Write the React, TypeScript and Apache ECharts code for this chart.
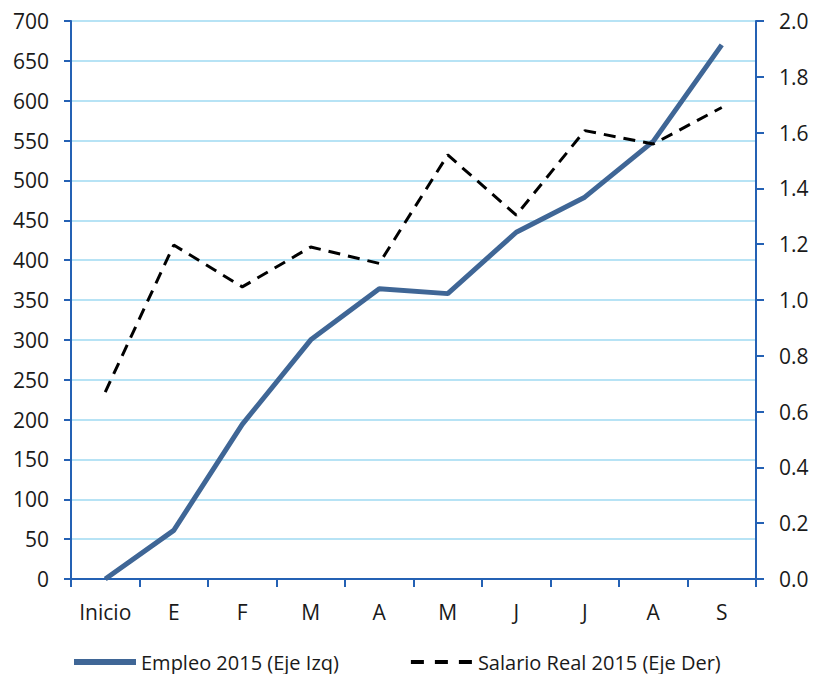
import React, { useEffect, useRef } from "react";
import * as echarts from "echarts";

const categories = ["Inicio", "E", "F", "M", "A", "M", "J", "J", "A", "S"];
const empleo = [0, 61, 194, 300, 364, 358, 435, 479, 549, 670];
const salario = [0.67, 1.197, 1.047, 1.19, 1.131, 1.52, 1.304, 1.607, 1.559, 1.69];
const seriesNames = ["Empleo 2015 (Eje Izq)", "Salario Real 2015 (Eje Der)"];

const AXIS_COLOR = "#2461b4";
const GRID_COLOR = "#b7e3f5";
const TEXT_COLOR = "#1a1a1a";
const EMP_COLOR = "#3f6696";
const FONT = "'Open Sans', 'Noto Sans', sans-serif";
const FS = 21;

export default function App() {
  const ref = useRef<HTMLDivElement>(null);
  useEffect(() => {
    if (!ref.current) return;
    const chart = echarts.init(ref.current, undefined, { renderer: "svg" });
    chart.setOption({
      animation: false,
      backgroundColor: "#ffffff",
      textStyle: { fontFamily: FONT, color: TEXT_COLOR },
      grid: { left: 71, right: 57, top: 21, bottom: 95 },
      legend: {
        orient: "horizontal",
        left: 66,
        top: 647,
        itemWidth: 62,
        itemHeight: 14,
        itemGap: 70,
        itemStyle: { opacity: 0 },
        textStyle: { fontFamily: FONT, fontSize: 20, color: TEXT_COLOR },
        data: [
          { name: seriesNames[0], lineStyle: { color: EMP_COLOR, width: 6 } },
          { name: seriesNames[1], lineStyle: { color: "#000000", width: 4, type: [13, 11] } },
        ],
      },
      xAxis: {
        type: "category",
        data: categories,
        boundaryGap: true,
        axisLine: { lineStyle: { color: AXIS_COLOR, width: 2 } },
        axisTick: { show: true, length: 8, lineStyle: { color: AXIS_COLOR, width: 2 } },
        axisLabel: { fontFamily: FONT, fontSize: FS, color: TEXT_COLOR, margin: 22 },
        splitLine: { show: false },
      },
      yAxis: [
        {
          type: "value",
          min: 0,
          max: 700,
          interval: 50,
          position: "left",
          axisLine: { show: true, lineStyle: { color: AXIS_COLOR, width: 2 } },
          axisTick: { show: true, length: 7, lineStyle: { color: AXIS_COLOR, width: 2 } },
          axisLabel: { fontFamily: FONT, fontSize: FS, color: TEXT_COLOR, margin: 22 },
          splitLine: { show: true, lineStyle: { color: GRID_COLOR, width: 2 } },
        },
        {
          type: "value",
          min: 0,
          max: 2,
          interval: 0.2,
          position: "right",
          axisLine: { show: true, lineStyle: { color: AXIS_COLOR, width: 2 } },
          axisTick: { show: true, length: 8, lineStyle: { color: AXIS_COLOR, width: 2 } },
          axisLabel: {
            fontFamily: FONT,
            fontSize: FS,
            color: TEXT_COLOR,
            margin: 23,
            formatter: (v: number) => v.toFixed(1),
          },
          splitLine: { show: false },
        },
      ],
      series: [
        {
          name: seriesNames[0],
          type: "line",
          data: empleo,
          yAxisIndex: 0,
          symbol: "none",
          z: 3,
          lineStyle: { color: EMP_COLOR, width: 5 },
          itemStyle: { color: EMP_COLOR },
        },
        {
          name: seriesNames[1],
          type: "line",
          data: salario,
          yAxisIndex: 1,
          symbol: "none",
          z: 4,
          lineStyle: { color: "#000000", width: 3, type: [12, 8] },
          itemStyle: { color: "#000000" },
        },
      ],
    });
    return () => chart.dispose();
  }, []);
  return (
    <div
      ref={ref}
      style={{ position: "fixed", left: 0, top: 0, width: 813, height: 674, background: "#fff" }}
    />
  );
}
